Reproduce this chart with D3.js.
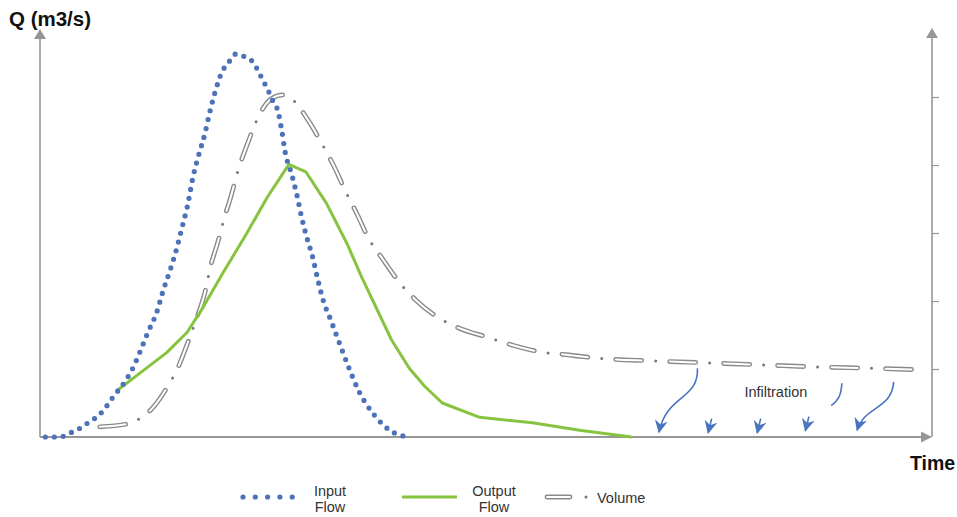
<!DOCTYPE html>
<html>
<head>
<meta charset="utf-8">
<script src="https://cdn.jsdelivr.net/npm/d3@7"></script>
<style>
  body { margin: 0; background: #fff; }
  svg { display: block; font-family: "Liberation Sans", Arial, sans-serif; }
</style>
</head>
<body>
<svg id="chart" width="957" height="517"></svg>
<script>
// ---------- DATA (time in arbitrary units 0-100, Q in arbitrary units 0-6) ----------
const inputTime = [0.6, 2.2, 3.4, 4.5, 5.5, 6.6, 7.5, 8.2, 9.5, 10.4, 11.2, 12.1, 13.1, 13.8, 14.6, 15.3, 15.9, 16.5, 17.2, 17.8, 18.5, 19.0, 19.6, 20.4, 21.1, 21.9,
  22.8, 23.9, 24.5, 25.1, 25.6, 26.1, 26.7, 27.1, 27.5, 28.2, 28.8, 29.3, 29.9, 30.6, 31.1, 31.7, 32.6, 33.4, 34.5, 35.8, 37.5, 39.2, 41.2];
const inputQ = [0, 0, 0.06, 0.13, 0.22, 0.32, 0.46, 0.59, 0.81, 1.01, 1.25, 1.54, 1.84, 2.15, 2.46, 2.76, 3.07, 3.38, 3.85, 4.15, 4.47, 4.76, 5.06, 5.37, 5.50, 5.63,
  5.60, 5.51, 5.37, 5.22, 5.09, 4.94, 4.78, 4.51, 4.18, 3.87, 3.56, 3.25, 2.94, 2.63, 2.34, 2.03, 1.72, 1.44, 1.06, 0.66, 0.32, 0.10, 0];

const outputTime = [8.6, 11.2, 14.2, 16.5, 18.3, 20.5, 23.2, 25.5, 27.9, 29.8, 32.1, 34.4, 36.1, 39.4, 41.4, 43.1, 45.1, 49.3, 55.2, 60.5, 66.3];
const outputQ = [0.68, 0.94, 1.24, 1.54, 1.91, 2.41, 3.00, 3.53, 4.01, 3.90, 3.44, 2.85, 2.34, 1.43, 1.01, 0.75, 0.50, 0.29, 0.21, 0.10, 0];

const volumeTime = [6.7, 9.7, 11.3, 12.5, 14.2, 15.6, 16.6, 17.6, 18.5, 19.1, 19.9, 20.7, 21.3, 22.3, 23.2, 24.3, 25.9, 27.2, 28.3, 30.2, 31.7, 33.0, 34.3,
  35.5, 36.8, 38.4, 40.2, 42.0, 44.6, 47.0, 50.1, 53.0, 56.2, 59.0, 62.4, 68.5, 74.8, 81.0, 87.1, 93.5, 98.3];
const volumeQ = [0.15, 0.19, 0.28, 0.41, 0.72, 1.06, 1.40, 1.76, 2.13, 2.50, 2.85, 3.24, 3.49, 3.96, 4.29, 4.66, 4.97, 5.03, 4.96, 4.63, 4.29, 3.97, 3.60,
  3.29, 2.93, 2.62, 2.29, 2.03, 1.76, 1.60, 1.47, 1.35, 1.25, 1.21, 1.16, 1.12, 1.09, 1.06, 1.03, 1.01, 0.99];

const rightTicks = [1, 2, 3, 4, 5];

// Infiltration arrows: [t,Q] start, control points, end (tip)
const infilCurves = [
  { pts: [[73.7, 1.01], [73.9, 0.55], [70.2, 0.62], [69.4, 0.07]], head: true },
  { pts: [[89.9, 0.79], [89.8, 0.62], [89.6, 0.55], [88.7, 0.46]], head: false },
  { pts: [[95.7, 0.81], [95.5, 0.40], [92.5, 0.47], [91.6, 0.10]], head: true }
];
const infilShort = [
  { from: [75.3, 0.27], to: [74.9, 0.06] },
  { from: [80.8, 0.27], to: [80.4, 0.06] },
  { from: [86.2, 0.30], to: [85.8, 0.09] }
];
const infilLabel = { t: 82.5, q: 0.59, text: "Infiltration" };

const legendItems = ["Input|Flow", "Output|Flow", "Volume"];

// ---------- DRAWING ----------
const svg = d3.select("#chart");
const x = d3.scaleLinear().domain([0, 100]).range([40, 932]);
const y = d3.scaleLinear().domain([0, 6]).range([437, 29]);

const axisColor = "#969696";
const blue = "#4e72b8";
const green = "#86c440";
const grayV = "#8a8a8a";
const arrowBlue = "#4a74c0";

const defs = svg.append("defs");
defs.append("marker")
  .attr("id", "ah").attr("viewBox", "0 -7 13 14")
  .attr("refX", 12).attr("refY", 0)
  .attr("markerWidth", 13).attr("markerHeight", 14)
  .attr("markerUnits", "userSpaceOnUse").attr("orient", "auto")
  .append("path").attr("d", "M0,-6.5L13,0L0,6.5L4,0Z").attr("fill", arrowBlue);

// axes
const ax = svg.append("g");
ax.append("line").attr("x1", x(0)).attr("x2", x(0)).attr("y1", y(0)).attr("y2", y(6) + 6)
  .attr("stroke", axisColor).attr("stroke-width", 1.6);
ax.append("path").attr("d", `M${x(0)},${y(6)} L${x(0) - 6},${y(6) + 10} L${x(0) + 6},${y(6) + 10} Z`).attr("fill", axisColor);

ax.append("line").attr("x1", x(0)).attr("x2", x(100) - 6).attr("y1", y(0)).attr("y2", y(0))
  .attr("stroke", axisColor).attr("stroke-width", 1.8);
ax.append("path").attr("d", `M${x(100)},${y(0)} L${x(100) - 11},${y(0) - 5.5} L${x(100) - 11},${y(0) + 5.5} Z`).attr("fill", axisColor);

ax.append("line").attr("x1", x(100)).attr("x2", x(100)).attr("y1", y(0)).attr("y2", y(6) + 6)
  .attr("stroke", axisColor).attr("stroke-width", 1.6);
ax.append("path").attr("d", `M${x(100)},${y(6) - 1} L${x(100) - 6},${y(6) + 9} L${x(100) + 6},${y(6) + 9} Z`).attr("fill", axisColor);

const rAxis = svg.append("g").attr("transform", `translate(${x(100)},0)`)
  .call(d3.axisRight(y).tickValues(rightTicks).tickSize(7).tickFormat(""));
rAxis.select(".domain").remove();
rAxis.selectAll(".tick line").attr("stroke", axisColor).attr("stroke-width", 1.2);

// volume
const volData = volumeTime.map((t, i) => [t, volumeQ[i]]);
const volLine = d3.line().x(d => x(d[0])).y(d => y(d[1])).curve(d3.curveMonotoneX);
const vd = volLine(volData);
svg.append("path").attr("d", vd).attr("fill", "none").attr("stroke", grayV).attr("stroke-width", 4.8)
  .attr("stroke-linecap", "round").attr("stroke-dasharray", "26 28");
svg.append("path").attr("d", vd).attr("fill", "none").attr("stroke", "#fff").attr("stroke-width", 2)
  .attr("stroke-linecap", "round").attr("stroke-dasharray", "26 28");
svg.append("path").attr("d", vd).attr("fill", "none").attr("stroke", "#777").attr("stroke-width", 3)
  .attr("stroke-linecap", "round").attr("stroke-dasharray", "0 54").attr("stroke-dashoffset", 14);

// output
const outData = outputTime.map((t, i) => [t, outputQ[i]]);
svg.append("path").attr("d", d3.line().x(d => x(d[0])).y(d => y(d[1])).curve(d3.curveLinear)(outData))
  .attr("fill", "none").attr("stroke", green).attr("stroke-width", 3).attr("stroke-linejoin", "round");

// input
const inData = inputTime.map((t, i) => [t, inputQ[i]]);
svg.append("path").attr("d", d3.line().x(d => x(d[0])).y(d => y(d[1])).curve(d3.curveMonotoneX)(inData))
  .attr("fill", "none").attr("stroke", blue).attr("stroke-width", 5.2)
  .attr("stroke-linecap", "round").attr("stroke-dasharray", "0 9");

// infiltration arrows
infilCurves.forEach(c => {
  const p = c.pts.map(d => [x(d[0]), y(d[1])]);
  const path = d3.path();
  path.moveTo(p[0][0], p[0][1]);
  path.bezierCurveTo(p[1][0], p[1][1], p[2][0], p[2][1], p[3][0], p[3][1]);
  const el = svg.append("path").attr("d", path.toString()).attr("fill", "none")
    .attr("stroke", arrowBlue).attr("stroke-width", 1.6);
  if (c.head) el.attr("marker-end", "url(#ah)");
});
infilShort.forEach(s => {
  svg.append("line").attr("x1", x(s.from[0])).attr("y1", y(s.from[1]))
    .attr("x2", x(s.to[0])).attr("y2", y(s.to[1]))
    .attr("stroke", arrowBlue).attr("stroke-width", 1.6).attr("marker-end", "url(#ah)");
});
svg.append("text").attr("x", x(infilLabel.t)).attr("y", y(infilLabel.q))
  .attr("text-anchor", "middle").attr("font-size", 14.5).attr("fill", "#333").text(infilLabel.text);

// axis titles
svg.append("text").attr("x", 9).attr("y", 26).attr("font-size", 20.5).attr("font-weight", "bold")
  .attr("fill", "#111").text("Q (m3/s)");
svg.append("text").attr("x", 910).attr("y", 470).attr("font-size", 19.5).attr("font-weight", "bold")
  .attr("fill", "#111").text("Time");

// legend
const lg = svg.append("g");
d3.range(5).forEach(i => {
  lg.append("circle").attr("cx", 243 + i * 12.3).attr("cy", 497).attr("r", 2.6).attr("fill", blue);
});
lg.append("line").attr("x1", 402).attr("x2", 457).attr("y1", 497).attr("y2", 497)
  .attr("stroke", green).attr("stroke-width", 3);
lg.append("line").attr("x1", 547).attr("x2", 570).attr("y1", 497).attr("y2", 497)
  .attr("stroke", grayV).attr("stroke-width", 4.8).attr("stroke-linecap", "round");
lg.append("line").attr("x1", 547).attr("x2", 570).attr("y1", 497).attr("y2", 497)
  .attr("stroke", "#fff").attr("stroke-width", 2).attr("stroke-linecap", "round");
lg.append("circle").attr("cx", 586).attr("cy", 497).attr("r", 1.5).attr("fill", "#777");

const legendPos = [{ x: 330, anchor: "middle" }, { x: 494, anchor: "middle" }, { x: 597, anchor: "start" }];
legendItems.forEach((lab, i) => {
  const lines = lab.split("|");
  const t = lg.append("text").attr("font-size", 14.5).attr("fill", "#333")
    .attr("text-anchor", legendPos[i].anchor);
  if (lines.length === 2) {
    t.append("tspan").attr("x", legendPos[i].x).attr("y", 496).text(lines[0]);
    t.append("tspan").attr("x", legendPos[i].x).attr("y", 512).text(lines[1]);
  } else {
    t.attr("x", legendPos[i].x).attr("y", 503).text(lines[0]);
  }
});
</script>
</body>
</html>
